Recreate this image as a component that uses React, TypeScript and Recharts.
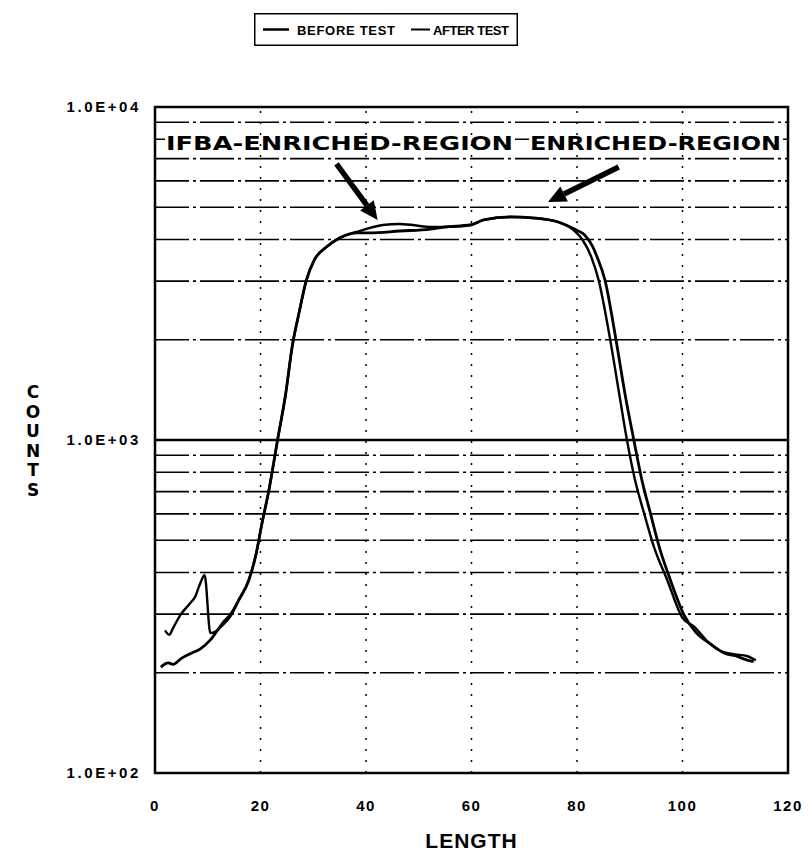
import { LineChart, Line, XAxis, YAxis, ReferenceLine, ReferenceArea, Legend } from "recharts"

// counts vs length
const beforeLength = [1.1, 2.5, 3.4, 5, 6.9, 8.6, 10.5, 12, 14.3, 15.9, 17.8, 19.1, 20.3, 21.6, 23.3, 24.8, 26, 27.3, 28.7, 30.2, 32.5, 35, 38.2, 40.7, 46.4, 52.2, 54.7, 59.8, 62.3, 67.5, 71.9, 76.4, 79.5, 81.5, 83, 83.8, 85.3, 87.3, 89.2, 90.7, 92.3, 93.9, 95.6, 97.7, 100.3, 102.5, 105.5, 108, 110, 112, 113.5]
const beforeCounts = [208, 214, 212, 221, 229, 236, 251, 270, 296, 331, 380, 450, 564, 708, 1014, 1384, 1905, 2406, 3020, 3473, 3800, 4045, 4188, 4185, 4242, 4300, 4361, 4422, 4581, 4675, 4640, 4516, 4300, 4120, 3800, 3548, 3020, 2040, 1346, 1014, 758, 604, 477, 380, 298, 265, 243, 229, 225, 219, 216]

const afterLength = [1.9, 2.7, 3.4, 4.8, 6.7, 7.6, 8.6, 9.4, 10.5, 11.5, 13, 14.3, 15.9, 17.8, 19.1, 20.3, 21.6, 23.3, 24.8, 26, 27.3, 28.7, 30.2, 32.5, 35, 38.2, 43.2, 46.4, 52.7, 54.7, 59.8, 62.3, 67.5, 71.9, 76.4, 79.5, 81, 82.7, 84.1, 86.2, 88.1, 89.4, 91, 92.7, 94.6, 97.1, 99.9, 102.2, 105.1, 107.6, 110, 112, 113.9]
const afterCounts = [268, 260, 272, 298, 324, 338, 372, 393, 263, 266, 285, 300, 331, 380, 450, 564, 708, 1014, 1384, 1905, 2406, 3020, 3473, 3800, 4045, 4213, 4422, 4455, 4361, 4361, 4422, 4581, 4675, 4640, 4516, 4250, 4000, 3548, 3020, 2040, 1346, 1014, 758, 604, 477, 380, 294, 275, 245, 231, 227, 225, 218]

const xTicks = [0, 20, 40, 60, 80, 100, 120]
const yTicks = [100, 1000, 10000]
const minorCounts = [200, 300, 400, 500, 600, 700, 800, 900, 2000, 3000, 4000, 5000, 6000, 7000, 9000]
const lengthGrid = [20, 40, 60, 80, 100]

// arrow annotations: [length, counts] tail -> tip
const arrowTails = [[34.4, 6750], [87.9, 6607]]
const arrowTips = [[42.2, 4581], [74.5, 5185]]

const beforeData = beforeLength.map((x, i) => ({ length: x, counts: beforeCounts[i] }))
const afterData = afterLength.map((x, i) => ({ length: x, counts: afterCounts[i] }))

const FONT = "'Liberation Sans', Arial, sans-serif"
const WIDE = "'DejaVu Sans', sans-serif"

const fmtTick = (v: number) => `1.0E+0${Math.round(Math.log10(v))}`

function Arrow(props: any) {
  const { x1, y1, x2, y2 } = props
  const dx = x2 - x1
  const dy = y2 - y1
  const len = Math.sqrt(dx * dx + dy * dy)
  const ux = dx / len
  const uy = dy / len
  const head = 18
  const bx = x2 - ux * head
  const by = y2 - uy * head
  const px = -uy * 8.5
  const py = ux * 8.5
  return (
    <g>
      <line x1={x1} y1={y1} x2={bx} y2={by} stroke="#000" strokeWidth={5.5} />
      <polygon points={`${x2},${y2} ${bx + px},${by + py} ${bx - px},${by - py}`} fill="#000" />
    </g>
  )
}

function RegionLabel({ viewBox }: any) {
  const y = viewBox.y + 3
  return (
    <g>
      <rect x={165} y={y - 9} width={350} height={19} fill="#fff" />
      <rect x={529} y={y - 9} width={254} height={19} fill="#fff" />
      <text x={166} y={y + 8} textLength={347} lengthAdjust="spacingAndGlyphs" fontFamily={WIDE} fontWeight="bold" fontSize={20} fill="#000">
        IFBA-ENRICHED-REGION
      </text>
      <text x={530} y={y + 8} textLength={251} lengthAdjust="spacingAndGlyphs" fontFamily={WIDE} fontWeight="bold" fontSize={20} fill="#000">
        ENRICHED-REGION
      </text>
    </g>
  )
}

function CountsLabel({ viewBox }: any) {
  const cx = viewBox.x - 22
  const cy = viewBox.y + viewBox.height / 2
  return (
    <text fontFamily={WIDE} fontWeight="bold" fontSize={17} fill="#000" textAnchor="middle">
      {"COUNTS".split("").map((ch, i) => (
        <tspan key={i} x={cx} y={cy - 49 + i * 19.5 + 7}>{ch}</tspan>
      ))}
    </text>
  )
}

function LengthLabel({ viewBox }: any) {
  return (
    <text x={viewBox.x + viewBox.width / 2} y={848} textAnchor="middle" fontFamily={FONT} fontWeight="bold" fontSize={21} letterSpacing={1} fill="#000">
      LENGTH
    </text>
  )
}

function LegendBox() {
  return (
    <svg width={264} height={33} style={{ display: "block" }}>
      <rect x={0.75} y={0.75} width={262.5} height={31.5} fill="#fff" stroke="#000" strokeWidth={1.5} />
      <line x1={9} x2={35} y1={16.5} y2={16.5} stroke="#000" strokeWidth={2.5} />
      <text x={43} y={21.5} textLength={98} lengthAdjust="spacing" fontFamily={FONT} fontWeight="bold" fontSize={13} fill="#000">BEFORE TEST</text>
      <line x1={157} x2={176} y1={16.5} y2={16.5} stroke="#000" strokeWidth={2} />
      <text x={179} y={21.5} textLength={76} lengthAdjust="spacing" fontFamily={FONT} fontWeight="bold" fontSize={13} fill="#000">AFTER TEST</text>
    </svg>
  )
}

export default function App() {
  return (
    <div style={{ position: "absolute", left: 0, top: 0, background: "#fff" }}>
      <LineChart width={811} height={862} margin={{ top: 107, right: 23, bottom: 29, left: 55 }}>
        <XAxis
          dataKey="length"
          type="number"
          domain={[0, 120]}
          ticks={xTicks}
          axisLine={false}
          tickLine={false}
          tickSize={0}
          tickMargin={27}
          height={60}
          tick={{ fontFamily: FONT, fontWeight: "bold", fontSize: 15, fill: "#000", letterSpacing: 1.5 }}
          label={<LengthLabel />}
        />
        <YAxis
          scale="log"
          domain={[100, 10000]}
          allowDataOverflow
          ticks={yTicks}
          tickFormatter={fmtTick}
          axisLine={false}
          tickLine={false}
          tickSize={0}
          tickMargin={14}
          width={100}
          tick={{ fontFamily: FONT, fontWeight: "bold", fontSize: 15, fill: "#000", letterSpacing: 2.6 }}
          label={<CountsLabel />}
        />
        {minorCounts.map((c) => (
          <ReferenceLine key={`h${c}`} y={c} stroke="#000" strokeWidth={1.7} strokeDasharray="34 4 3 4" />
        ))}
        <ReferenceLine y={8000} stroke="#000" strokeWidth={1.6} label={<RegionLabel />} />
        <ReferenceLine y={1000} stroke="#000" strokeWidth={2.3} />
        {lengthGrid.map((l) => (
          <ReferenceLine key={`v${l}`} x={l} stroke="#000" strokeWidth={1.5} strokeDasharray="2 9" />
        ))}
        <ReferenceArea x1={0} x2={120} y1={100} y2={10000} fill="none" stroke="#000" strokeWidth={2.5} />
        {arrowTails.map((t, i) => (
          <ReferenceLine
            key={`a${i}`}
            segment={[{ x: t[0], y: t[1] }, { x: arrowTips[i][0], y: arrowTips[i][1] }]}
            shape={<Arrow />}
          />
        ))}
        <Line data={beforeData} dataKey="counts" name="BEFORE TEST" type="monotone" stroke="#000" strokeWidth={2.8} dot={false} isAnimationActive={false} />
        <Line data={afterData} dataKey="counts" name="AFTER TEST" type="monotone" stroke="#000" strokeWidth={2.4} dot={false} isAnimationActive={false} />
        <Legend
          layout="vertical"
          align="center"
          verticalAlign="middle"
          content={<LegendBox />}
          wrapperStyle={{ left: 254, top: 13, width: 264, height: 33 }}
        />
      </LineChart>
    </div>
  )
}
